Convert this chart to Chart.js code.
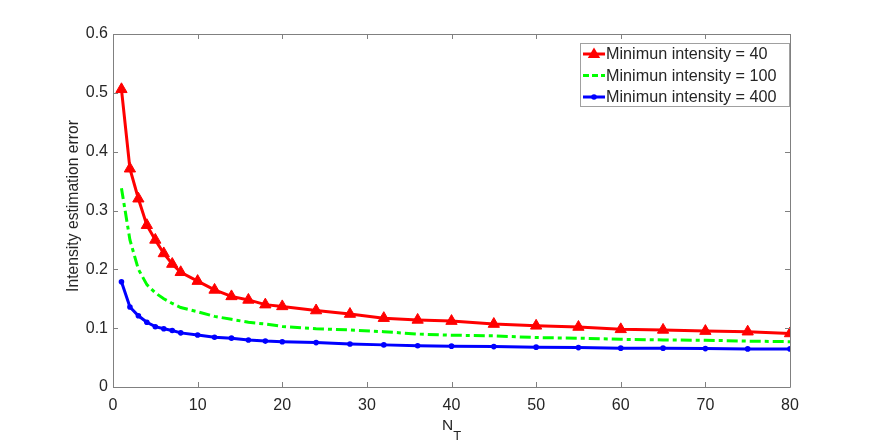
<!DOCTYPE html>
<html>
<head>
<meta charset="utf-8">
<script src="https://cdn.jsdelivr.net/npm/chart.js@4.4.1/dist/chart.umd.min.js"></script>
<style>
  body { margin: 0; background: #fff; }
  #wrap { width: 872px; height: 442px; }
</style>
</head>
<body>
<div id="wrap"><canvas id="errChart" width="872" height="442"></canvas></div>
<script>
// number of time frames
var nT = [1, 2, 3, 4, 5, 6, 7, 8, 10, 12, 14, 16, 18, 20, 24, 28, 32, 36, 40, 45, 50, 55, 60, 65, 70, 75, 80];
var err40 = [0.506, 0.371, 0.320, 0.275, 0.250, 0.227, 0.209, 0.195, 0.180, 0.165, 0.154, 0.148, 0.140, 0.137,
             0.130, 0.124, 0.117, 0.114, 0.112, 0.107, 0.104, 0.102, 0.098, 0.097, 0.095, 0.094, 0.091];
var err100 = [0.338, 0.250, 0.200, 0.174, 0.160, 0.150, 0.142, 0.135, 0.128, 0.120, 0.115, 0.110, 0.107, 0.103,
              0.099, 0.097, 0.094, 0.090, 0.088, 0.087, 0.084, 0.083, 0.081, 0.080, 0.0795, 0.078, 0.077];
var err400 = [0.179, 0.136, 0.121, 0.110, 0.1025, 0.099, 0.096, 0.092, 0.0885, 0.0846, 0.083, 0.080, 0.078, 0.077,
              0.0755, 0.073, 0.0716, 0.070, 0.0694, 0.0687, 0.0677, 0.067, 0.066, 0.066, 0.0653, 0.0648, 0.0648];
var seriesLabels = ["Minimun intensity = 40", "Minimun intensity = 100", "Minimun intensity = 400"];
var xTicks = [0, 10, 20, 30, 40, 50, 60, 70, 80];
var yTicks = [0, 0.1, 0.2, 0.3, 0.4, 0.5, 0.6];

var textColor = '#262626';
var axisColor = '#808080';
var fontFam = '"Liberation Sans", Arial, Helvetica, sans-serif';

let pts = (ys) => nT.map(function(x, i) { return {x: x, y: ys[i]}; });

// matlab style box, inward ticks, titles and legend
var matlabAxes = {
    id: 'matlabAxes',
    afterDraw: function(chart) {
        var ctx = chart.ctx;
        var a = chart.chartArea;
        var xs = chart.scales.x, ys = chart.scales.y;
        var tl = 5;
        ctx.save();
        ctx.strokeStyle = axisColor;
        ctx.lineWidth = 1;
        ctx.beginPath();
        ctx.rect(a.left + 0.5, a.top + 0.5, a.right - a.left, a.bottom - a.top);
        xTicks.forEach(function(v) {
            var px = Math.round(xs.getPixelForValue(v)) + 0.5;
            ctx.moveTo(px, a.bottom); ctx.lineTo(px, a.bottom - tl);
            ctx.moveTo(px, a.top); ctx.lineTo(px, a.top + tl);
        });
        yTicks.forEach(function(v) {
            var py = Math.round(ys.getPixelForValue(v)) + 0.5;
            ctx.moveTo(a.left, py); ctx.lineTo(a.left + tl, py);
            ctx.moveTo(a.right, py); ctx.lineTo(a.right - tl, py);
        });
        ctx.stroke();

        // axis titles
        ctx.fillStyle = textColor;
        ctx.font = '15.7px ' + fontFam;
        ctx.textAlign = 'center';
        ctx.textBaseline = 'middle';
        ctx.save();
        ctx.translate(74, 206);
        ctx.rotate(-Math.PI / 2);
        ctx.fillText('Intensity estimation error', 0, 0);
        ctx.restore();

        var cx = (a.left + a.right) / 2;
        ctx.textAlign = 'left';
        ctx.textBaseline = 'alphabetic';
        ctx.font = '15.5px ' + fontFam;
        var nw = ctx.measureText('N').width;
        ctx.fillText('N', cx - 9.5, 430);
        ctx.font = '13px ' + fontFam;
        ctx.fillText('T', cx - 9.5 + nw, 440);

        // legend
        var lx = 580, ly = 43, lw = 209, lh = 63;
        ctx.fillStyle = '#fff';
        ctx.fillRect(lx, ly, lw, lh);
        ctx.strokeStyle = '#a0a0a0';
        ctx.strokeRect(lx + 0.5, ly + 0.5, lw, lh);
        chart.data.datasets.forEach(function(ds, i) {
            var yy = ly + 11 + i * 21.5;
            ctx.save();
            ctx.strokeStyle = ds.borderColor;
            ctx.lineWidth = ds.borderWidth;
            ctx.setLineDash(ds.borderDash ? [6, 3] : []);
            ctx.beginPath();
            ctx.moveTo(lx + 3, yy);
            ctx.lineTo(lx + 25, yy);
            ctx.stroke();
            ctx.restore();
            if (ds.pointRadius > 0) {
                ctx.fillStyle = ds.borderColor;
                ctx.beginPath();
                if (ds.pointStyle === 'triangle') {
                    var r = ds.pointRadius;
                    ctx.moveTo(lx + 14, yy - r);
                    ctx.lineTo(lx + 14 + r * 0.95, yy + r * 0.6);
                    ctx.lineTo(lx + 14 - r * 0.95, yy + r * 0.6);
                    ctx.closePath();
                } else {
                    ctx.arc(lx + 14, yy, ds.pointRadius, 0, Math.PI * 2);
                }
                ctx.fill();
            }
            ctx.fillStyle = textColor;
            ctx.font = '16.2px ' + fontFam;
            ctx.textBaseline = 'middle';
            ctx.fillText(ds.label, lx + 26, yy + 1);
        });
        ctx.restore();
    }
};

var ctxE = document.getElementById('errChart').getContext('2d');
var errChart = new Chart(ctxE, {
    type: 'line',
    data: {
        datasets: [{
            label: seriesLabels[0],
            data: pts(err40),
            borderColor: '#ff0000',
            backgroundColor: '#ff0000',
            borderWidth: 3,
            pointStyle: 'triangle',
            pointRadius: 6.5,
            pointBorderWidth: 1,
            tension: 0
        }, {
            label: seriesLabels[1],
            data: pts(err100),
            borderColor: '#00ff00',
            backgroundColor: '#00ff00',
            borderWidth: 3,
            borderDash: [11, 4, 4, 4],
            pointRadius: 0,
            tension: 0
        }, {
            label: seriesLabels[2],
            data: pts(err400),
            borderColor: '#0000ff',
            backgroundColor: '#0000ff',
            borderWidth: 3,
            pointStyle: 'circle',
            pointRadius: 2.8,
            pointBorderWidth: 0,
            tension: 0
        }]
    },
    options: {
        responsive: false,
        animation: false,
        devicePixelRatio: 1,
        layout: { padding: { left: 0, right: 82, top: 34, bottom: 0 } },
        plugins: { legend: { display: false }, tooltip: { enabled: false } },
        scales: {
            x: {
                type: 'linear', min: 0, max: 80,
                afterFit: function(s) { s.height = 55; },
                afterBuildTicks: function(s) { s.ticks = xTicks.map(function(v) { return {value: v}; }); },
                grid: { display: false, drawTicks: false },
                border: { display: false },
                ticks: { color: textColor, font: { size: 16, family: fontFam }, padding: 9, maxRotation: 0 }
            },
            y: {
                min: 0, max: 0.6,
                afterFit: function(s) { s.width = 113; },
                afterBuildTicks: function(s) { s.ticks = yTicks.map(function(v) { return {value: v}; }); },
                grid: { display: false, drawTicks: false },
                border: { display: false },
                ticks: { color: textColor, font: { size: 16, family: fontFam }, padding: 5,
                    callback: function(v) { return String(v); } }
            }
        }
    },
    plugins: [matlabAxes]
});
</script>
</body>
</html>
